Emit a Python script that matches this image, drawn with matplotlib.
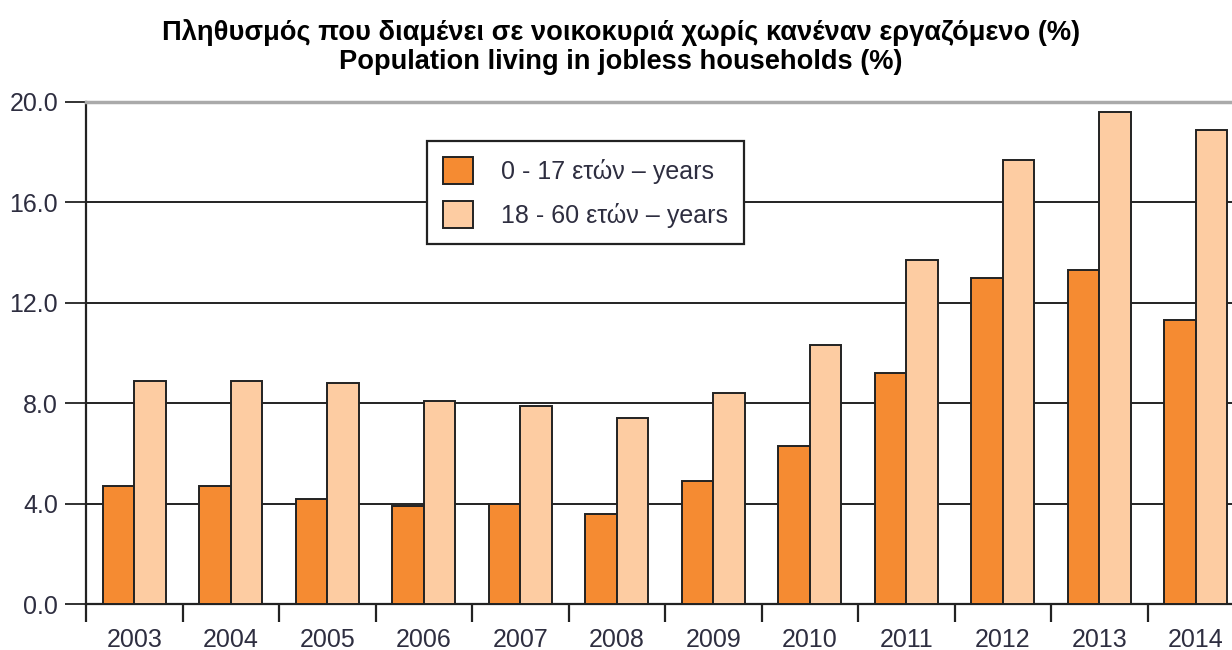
import matplotlib
matplotlib.use("Agg")
from matplotlib import pyplot as plt
from matplotlib.patches import Patch
import numpy as np

plt.rcParams['font.family'] = ['Liberation Sans', 'DejaVu Sans']

years = ['2003', '2004', '2005', '2006', '2007', '2008',
         '2009', '2010', '2011', '2012', '2013', '2014']
kids = [4.7, 4.7, 4.2, 3.9, 4.0, 3.6, 4.9, 6.3, 9.2, 13.0, 13.3, 11.3]      # 0-17
adults = [8.9, 8.9, 8.8, 8.1, 7.9, 7.4, 8.4, 10.3, 13.7, 17.7, 19.6, 18.9]  # 18-60
labels = ['0 - 17 ετών – years', '18 - 60 ετών – years']
title_gr = 'Πληθυσμός που διαμένει σε νοικοκυριά χωρίς κανέναν εργαζόμενο (%)'
title_en = 'Population living in jobless households (%)'

c_dark = '#f58b32'
c_light = '#fdcca2'
edge = '#222222'
txt = '#2e2e40'

fig = plt.figure(figsize=(12.32, 6.5), dpi=100)
# axes runs a bit past the right edge, like the cropped original
ax = fig.add_axes([86 / 1232, 1 - 604 / 650, 1158 / 1232, 502 / 650])

x = np.arange(len(years))
w = 0.325
ax.bar(x - w / 2, kids, w, color=c_dark, edgecolor=edge, linewidth=1.4, zorder=3)
ax.bar(x + w / 2, adults, w, color=c_light, edgecolor=edge, linewidth=1.4, zorder=3)

ax.set_xlim(-0.5, len(years) - 0.5)
ax.set_ylim(0, 20)
ax.set_yticks(np.arange(0, 20.1, 4))
ax.set_yticklabels(['%.1f' % v for v in np.arange(0, 20.1, 4)], fontsize=18, color=txt)
ax.yaxis.grid(True, color='#111111', linewidth=1.3, zorder=1)
ax.set_axisbelow(True)

# group separators as ticks, year labels in between
ax.set_xticks(np.arange(-0.5, len(years), 1))
ax.set_xticklabels([])
ax.set_xticks(x, minor=True)
ax.set_xticklabels(years, minor=True, fontsize=18, color=txt)
ax.tick_params(axis='x', which='major', length=13, width=1.6, color='#222222', direction='out')
ax.tick_params(axis='x', which='minor', length=0, pad=17)
ax.tick_params(axis='y', length=15, width=1.3, color='#222222', pad=5)

ax.spines['right'].set_visible(False)
ax.spines['top'].set_color('#aaaaaa')
ax.spines['top'].set_linewidth(2.5)
ax.spines['left'].set_color('#222222')
ax.spines['left'].set_linewidth(1.6)
ax.spines['bottom'].set_color('#222222')
ax.spines['bottom'].set_linewidth(1.6)

handles = [Patch(facecolor=c_dark, edgecolor=edge, linewidth=1.4),
           Patch(facecolor=c_light, edgecolor=edge, linewidth=1.4)]
leg = ax.legend(handles, labels, loc='upper left', bbox_to_anchor=(341 / 1158, 1 - 39 / 502),
                fontsize=18, frameon=True, fancybox=False, framealpha=1,
                edgecolor='#222222', handlelength=1.2, handleheight=1.25,
                borderpad=0.65, labelspacing=0.7, handletextpad=1.1, borderaxespad=0)
leg.get_frame().set_linewidth(1.6)
for t in leg.get_texts():
    t.set_color(txt)

fig.text(621 / 1232, 1 - 33 / 650, title_gr, ha='center', va='center',
         fontsize=19.6, fontweight='bold')
fig.text(621 / 1232, 1 - 62 / 650, title_en, ha='center', va='center',
         fontsize=19.6, fontweight='bold')

fig.savefig('out.png', dpi=100)
